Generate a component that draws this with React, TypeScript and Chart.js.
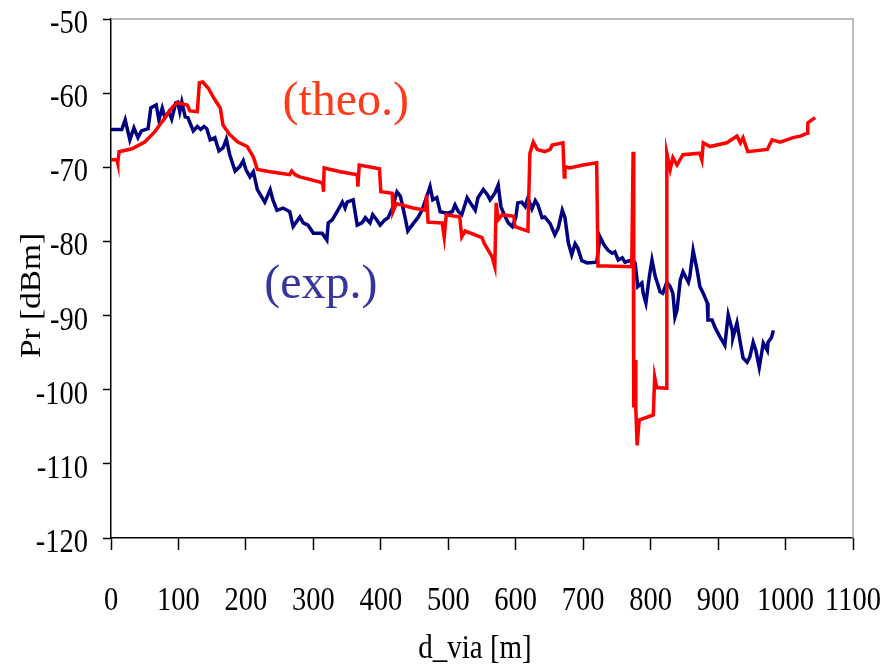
import React, { useEffect, useRef } from "react";
import { Chart, registerables } from "chart.js";

Chart.register(...registerables);

// theoretical (red) series
const theoD = [0, 9, 10, 12, 31, 50, 65, 80, 92, 98, 113, 117, 128, 131, 136, 144, 154, 162, 166, 176, 188, 202, 211, 217, 236, 251, 265, 268, 273, 280, 310, 314, 315, 316, 340, 365, 366, 368, 398, 400, 417, 418, 423, 448, 466, 468, 470, 491, 494, 497, 517, 520, 525, 550, 553, 565, 569, 571, 574, 580, 597, 599, 618, 621, 626, 632, 643, 651, 654, 670, 672, 673, 680, 700, 720, 722, 735, 772, 774, 775, 777, 778, 780, 783, 804, 806, 809, 823, 824, 829, 833, 839, 848, 873, 876, 878, 888, 913, 928, 933, 937, 944, 973, 980, 992, 1011, 1022, 1032, 1033, 1039, 1044];
const theoP = [-69.0, -69.0, -69.4, -67.9, -67.5, -66.6, -65.2, -63.3, -61.8, -61.3, -61.6, -62.4, -62.5, -58.6, -58.5, -59.3, -60.9, -62.0, -64.3, -65.6, -66.6, -67.2, -68.6, -70.3, -70.6, -70.8, -71.0, -70.5, -71.0, -71.3, -72.0, -72.2, -73.3, -70.1, -70.6, -71.0, -72.6, -69.7, -70.2, -73.3, -73.5, -76.0, -74.9, -75.5, -75.8, -73.7, -77.4, -77.5, -79.4, -76.4, -76.7, -79.4, -78.6, -79.5, -80.2, -82.1, -83.4, -74.8, -77.1, -76.4, -76.6, -78.0, -78.6, -68.1, -66.6, -67.6, -67.9, -67.6, -67.0, -66.7, -71.3, -69.9, -70.1, -69.7, -69.4, -83.3, -83.3, -83.4, -67.9, -102.4, -96.0, -102.5, -107.5, -104.1, -103.4, -98.3, -99.7, -99.8, -68.1, -70.3, -68.7, -69.7, -68.3, -68.1, -69.0, -66.7, -67.2, -66.7, -65.8, -66.7, -66.0, -67.9, -67.6, -66.3, -66.6, -66.0, -65.8, -65.4, -64.0, -63.6, -63.3];

// experimental (blue) series
const expD = [0, 16, 21, 28, 34, 40, 45, 55, 59, 67, 71, 76, 80, 86, 90, 96, 99, 102, 105, 110, 114, 122, 128, 133, 138, 142, 147, 154, 160, 166, 171, 176, 184, 191, 196, 200, 206, 211, 217, 224, 228, 236, 240, 246, 255, 265, 270, 280, 285, 292, 300, 313, 320, 322, 328, 335, 343, 347, 350, 359, 365, 372, 377, 384, 388, 394, 399, 406, 411, 417, 424, 429, 431, 436, 440, 448, 455, 461, 469, 473, 477, 483, 488, 498, 506, 510, 515, 520, 528, 532, 540, 544, 552, 558, 562, 569, 574, 578, 583, 589, 595, 600, 603, 609, 614, 618, 624, 629, 633, 639, 643, 651, 658, 663, 669, 673, 678, 683, 688, 692, 698, 706, 720, 725, 731, 737, 743, 747, 752, 758, 762, 772, 777, 781, 787, 789, 793, 798, 802, 807, 810, 814, 818, 824, 829, 833, 836, 839, 844, 848, 856, 858, 863, 869, 873, 878, 884, 885, 891, 896, 903, 910, 915, 921, 922, 928, 933, 937, 943, 947, 952, 956, 961, 967, 973, 974, 979, 982];
const expP = [-64.9, -64.9, -63.6, -66.3, -64.7, -66.0, -65.1, -64.8, -62.0, -61.6, -63.6, -62.0, -63.3, -62.5, -63.5, -61.3, -61.2, -62.5, -61.2, -63.2, -63.3, -65.1, -64.5, -64.9, -64.5, -64.8, -66.3, -66.0, -67.8, -67.4, -66.2, -68.3, -70.5, -69.9, -69.1, -70.3, -71.3, -70.6, -73.0, -74.1, -74.7, -73.0, -74.4, -75.8, -75.5, -76.0, -78.0, -76.7, -77.5, -77.8, -78.9, -78.9, -79.8, -77.5, -77.1, -76.0, -74.7, -75.5, -74.7, -74.4, -77.8, -77.5, -76.8, -77.5, -76.4, -77.1, -77.8, -77.1, -76.8, -75.5, -73.3, -73.9, -74.7, -76.8, -78.6, -77.6, -76.8, -75.8, -73.7, -72.6, -74.4, -74.1, -76.0, -76.2, -76.0, -75.1, -76.0, -76.4, -74.1, -74.7, -75.8, -74.1, -73.0, -73.7, -74.4, -73.5, -72.4, -75.3, -76.4, -77.5, -78.0, -76.8, -74.8, -74.7, -75.3, -74.1, -75.6, -74.5, -75.1, -76.8, -76.7, -77.6, -79.1, -78.2, -75.8, -76.8, -80.2, -81.8, -80.3, -80.9, -82.6, -82.9, -82.8, -79.4, -80.5, -81.2, -81.6, -81.4, -82.5, -82.2, -82.8, -82.5, -82.9, -86.1, -85.6, -87.0, -88.3, -84.8, -82.5, -84.8, -85.6, -86.8, -87.0, -85.5, -86.1, -87.0, -90.2, -89.3, -85.2, -84.1, -85.5, -84.8, -81.2, -83.9, -86.1, -87.0, -88.3, -90.6, -90.6, -91.7, -92.9, -94.0, -89.9, -92.0, -93.0, -91.0, -93.7, -95.7, -96.3, -95.6, -93.6, -94.7, -97.0, -93.7, -94.7, -93.6, -93.0, -92.0];

const xMin = 0;
const xMax = 1100;
const xStep = 100;
const yMin = -120;
const yMax = -50;
const yStep = 10;

const xTitle = "d_via [m]";
const yTitle = "Pr [dBm]";
const theoLabel = "(theo.)";
const expLabel = "(exp.)";
const theoLabelAt = [348, -61.3];
const expLabelAt = [311, -85.9];

const SERIF = "'Liberation Serif', 'Times New Roman', serif";
const TICK_FONT = `28.5px ${SERIF}`;
const STRETCH = 1.15;

function stretchedText(ctx: any, text: string, x: number, y: number, sy: number) {
  ctx.save();
  ctx.translate(x, y);
  ctx.scale(1, sy);
  ctx.fillText(text, 0, 0);
  ctx.restore();
}

export default function App() {
  const ref = useRef<HTMLCanvasElement | null>(null);

  useEffect(() => {
    if (!ref.current) return;
    const overlay = {
      id: "overlay",
      beforeDatasetsDraw(chart: any) {
        const { ctx, chartArea } = chart;
        ctx.save();
        ctx.strokeStyle = "#a8a8a8";
        ctx.lineWidth = 1.5;
        ctx.beginPath();
        ctx.moveTo(chartArea.left, chartArea.top);
        ctx.lineTo(chartArea.right, chartArea.top);
        ctx.lineTo(chartArea.right, chartArea.bottom);
        ctx.stroke();
        ctx.restore();
      },
      afterDraw(chart: any) {
        const { ctx, scales, chartArea } = chart;
        const xs = scales.x;
        const ys = scales.y;
        ctx.save();
        ctx.fillStyle = "#000";
        ctx.font = TICK_FONT;
        ctx.textAlign = "center";
        ctx.textBaseline = "alphabetic";
        xs.ticks.forEach((t: any) => {
          stretchedText(ctx, String(t.value), xs.getPixelForValue(t.value), chartArea.bottom + 72, STRETCH);
        });
        ctx.textAlign = "right";
        ys.ticks.forEach((t: any) => {
          stretchedText(ctx, String(t.value), chartArea.left - 23, ys.getPixelForValue(t.value) + 14, STRETCH);
        });
        ctx.textAlign = "center";
        ctx.textBaseline = "middle";
        ctx.font = `29px ${SERIF}`;
        stretchedText(ctx, xTitle, (chartArea.left + chartArea.right) / 2 - 7, 649, STRETCH);
        ctx.save();
        ctx.translate(32, (chartArea.top + chartArea.bottom) / 2 + 17);
        ctx.rotate(-Math.PI / 2);
        ctx.scale(STRETCH, 1);
        ctx.fillText(yTitle, 0, 0);
        ctx.restore();
        ctx.font = `48px ${SERIF}`;
        ctx.fillStyle = "#ff3a1a";
        ctx.fillText(theoLabel, xs.getPixelForValue(theoLabelAt[0]), ys.getPixelForValue(theoLabelAt[1]));
        ctx.fillStyle = "#3535a0";
        ctx.fillText(expLabel, xs.getPixelForValue(expLabelAt[0]), ys.getPixelForValue(expLabelAt[1]));
        ctx.restore();
      },
    };

    const chart = new Chart(ref.current, {
      type: "line",
      data: {
        datasets: [
          {
            label: "theo",
            data: theoD.map((d, i) => ({ x: d, y: theoP[i] })),
            borderColor: "#ff0000",
            borderWidth: 3.5,
            pointRadius: 0,
            tension: 0,
            fill: false,
          },
          {
            label: "exp",
            data: expD.map((d, i) => ({ x: d, y: expP[i] })),
            borderColor: "#000080",
            borderWidth: 3.5,
            pointRadius: 0,
            tension: 0,
            fill: false,
          },
        ],
      },
      options: {
        responsive: false,
        animation: false,
        layout: { padding: { left: 0, top: 19, right: 34, bottom: 0 } },
        plugins: { legend: { display: false }, tooltip: { enabled: false } },
        scales: {
          x: {
            type: "linear",
            min: xMin,
            max: xMax,
            afterFit: (s: any) => {
              s.height = 129;
              s.paddingLeft = 0;
              s.paddingRight = 0;
            },
            ticks: { stepSize: xStep, display: false, autoSkip: false },
            grid: {
              drawOnChartArea: false,
              drawTicks: true,
              tickLength: 12,
              tickColor: "#000",
              tickWidth: 1.5,
            },
            border: { display: true, color: "#000", width: 1.5 },
          },
          y: {
            type: "linear",
            min: yMin,
            max: yMax,
            afterFit: (s: any) => {
              s.width = 111;
              s.paddingTop = 0;
              s.paddingBottom = 0;
            },
            ticks: { stepSize: yStep, display: false },
            grid: {
              drawOnChartArea: false,
              drawTicks: true,
              tickLength: 8,
              tickColor: "#000",
              tickWidth: 1.5,
            },
            border: { display: true, color: "#000", width: 1.5 },
          },
        },
      },
      plugins: [overlay],
    } as any);
    return () => chart.destroy();
  }, []);

  return (
    <div style={{ position: "fixed", left: 0, top: 0, width: 887, height: 667, background: "#fff" }}>
      <canvas ref={ref} width={887} height={667} style={{ display: "block" }} />
    </div>
  );
}
